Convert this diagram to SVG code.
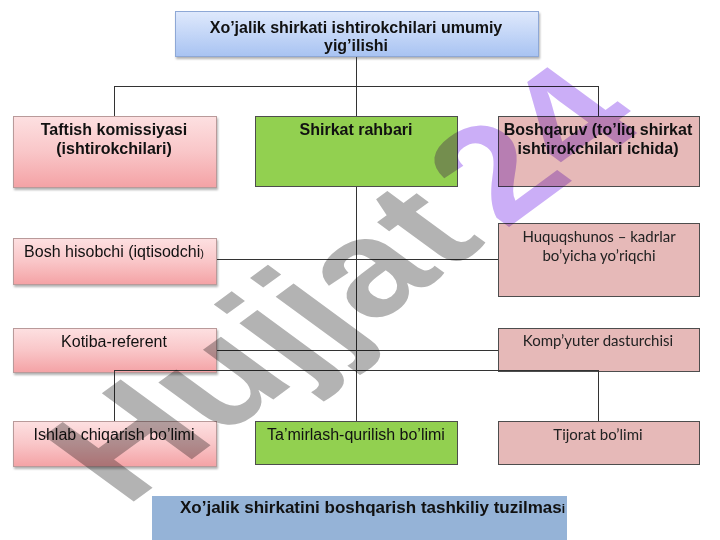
<svg xmlns="http://www.w3.org/2000/svg" width="720" height="540" viewBox="0 0 720 540">
<defs>
<linearGradient id="gBlue" x1="0" y1="0" x2="0" y2="1"><stop offset="0" stop-color="#dfe9fc"/><stop offset="1" stop-color="#a8c3f2"/></linearGradient>
<linearGradient id="gPink" x1="0" y1="0" x2="0" y2="1"><stop offset="0" stop-color="#fde0e1"/><stop offset="0.5" stop-color="#f9c6c8"/><stop offset="1" stop-color="#f4a2a5"/></linearGradient>
<filter id="sh" x="-5%" y="-5%" width="115%" height="125%"><feDropShadow dx="1" dy="2" stdDeviation="1" flood-color="#000" flood-opacity="0.3"/></filter>
<style>
.t{font-family:"Liberation Sans",Arial,sans-serif;font-size:16px;fill:#111;text-anchor:middle}
.b{font-weight:bold}
.c{font-family:Lato,"Open Sans",sans-serif;font-size:15px;fill:#222;text-anchor:middle}
.pink{fill:url(#gPink);stroke:#b99a9a;stroke-width:1;filter:url(#sh)}
.green{fill:#92d050;stroke:#4d4d4d;stroke-width:1}
.rose{fill:#e6b9b8;stroke:#4d4d4d;stroke-width:1}
.blue{fill:url(#gBlue);stroke:#8ea8d6;stroke-width:1;filter:url(#sh)}
.ln{stroke:#333;stroke-width:1;fill:none}
.wm{font-family:"Liberation Sans",Arial,sans-serif;font-weight:bold;font-size:165px;mix-blend-mode:multiply}
</style>
</defs>
<rect width="720" height="540" fill="#fff"/>
<g id="n-top"><rect class="blue" x="175.5" y="11.5" width="363" height="45"/>
<text class="t b" x="356" y="33">Xo’jalik shirkati ishtirokchilari umumiy</text>
<text class="t b" x="356" y="51">yig’ilishi</text></g>
<g id="n-taftish"><rect class="pink" x="13.5" y="116.5" width="203" height="71"/>
<text class="t b" x="114" y="135">Taftish komissiyasi</text>
<text class="t b" x="114" y="154">(ishtirokchilari)</text></g>
<g id="n-rahbar"><rect class="green" x="255.5" y="116.5" width="202" height="70"/>
<text class="t b" x="356" y="135">Shirkat rahbari</text></g>
<g id="n-boshqaruv"><rect class="rose" x="498.5" y="116.5" width="201" height="70"/>
<text class="t b" x="598" y="135">Boshqaruv (to’liq shirkat</text>
<text class="t b" x="598" y="154">ishtirokchilari ichida)</text></g>
<g id="n-hisobchi"><rect class="pink" x="13.5" y="238.5" width="203" height="46"/>
<text class="t" x="114" y="257">Bosh hisobchi (iqtisodchi<tspan font-size="11">)</tspan></text></g>
<g id="n-huquq"><rect class="rose" x="498.5" y="223.5" width="201" height="73"/>
<text class="c" x="599" y="242">Huquqshunos – kadrlar</text>
<text class="c" x="599" y="261">bo’yicha yo’riqchi</text></g>
<g id="n-kotiba"><rect class="pink" x="13.5" y="328.5" width="203" height="44"/>
<text class="t" x="114" y="347">Kotiba-referent</text></g>
<g id="n-komp"><rect class="rose" x="498.5" y="328.5" width="201" height="43"/>
<text class="c" x="598" y="346">Komp’yuter dasturchisi</text></g>
<g id="n-ishlab"><rect class="pink" x="13.5" y="421.5" width="203" height="45"/>
<text class="t" x="114" y="440">Ishlab chiqarish bo’limi</text></g>
<g id="n-tamir"><rect class="green" x="255.5" y="421.5" width="202" height="43"/>
<text class="t" x="356" y="440">Ta’mirlash-qurilish bo’limi</text></g>
<g id="n-tijorat"><rect class="rose" x="498.5" y="421.5" width="201" height="43"/>
<text class="c" x="598" y="440">Tijorat bo’limi</text></g>
<g id="connectors">
<path class="ln" d="M356.5 57V116M114.5 86.5H598.5M114.5 86V116M598.5 86V116"/>
<path class="ln" d="M356.5 187V421"/>
<path class="ln" d="M217 259.5H498"/>
<path class="ln" d="M217 350.5H498"/>
<path class="ln" d="M114.5 370.5H598.5M114.5 370V421M598.5 370V421"/>
</g>
<g id="caption"><rect x="152" y="496" width="415" height="44" fill="#95b3d7"/>
<text class="t b" x="180" y="513" style="text-anchor:start;font-size:17px">Xo’jalik shirkatini boshqarish tashkiliy tuzilmas<tspan font-size="12">i</tspan></text></g>
<g id="watermark"><text class="wm" transform="translate(125,508) scale(1.12,0.82) rotate(-45)"><tspan fill="#b3b3b3">Hujjat</tspan><tspan fill="#cbaef7" dx="-25"> 24</tspan></text></g>
</svg>
